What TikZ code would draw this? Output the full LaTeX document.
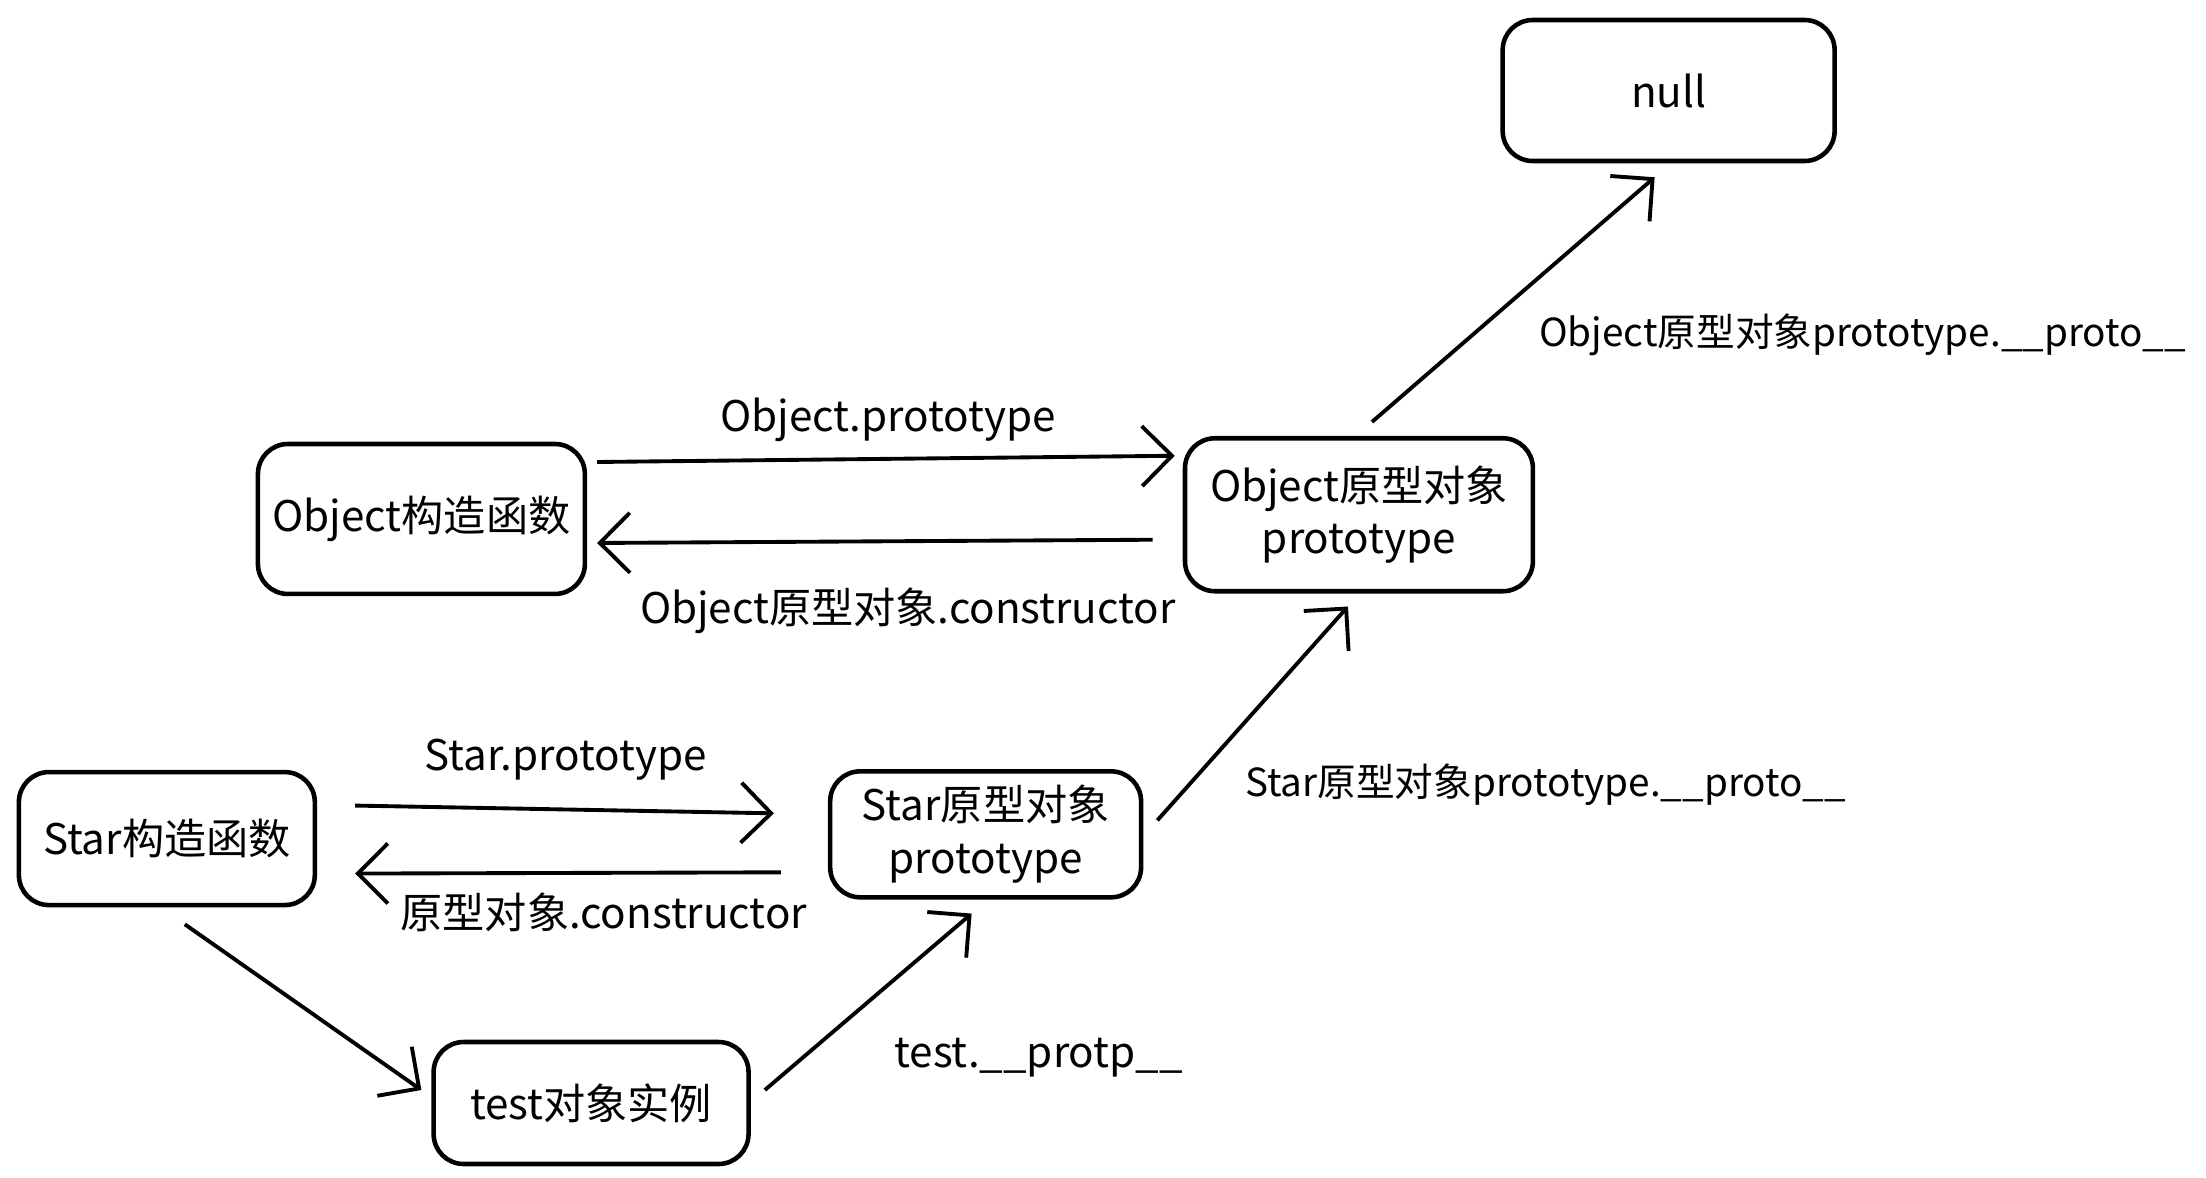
\documentclass[tikz,border=0pt]{standalone}
\usepackage{fontspec}
\setmainfont{Noto Sans CJK SC}
\usetikzlibrary{arrows.meta,positioning}
\tikzset{
    box/.style={draw, rectangle, rounded corners=0.3cm, line width=1.3pt, align=center, font=\fontsize{12}{15}\selectfont},
    arrow/.style={-{Straight Barb[length=3mm,width=6mm]}, line width=1.1pt},
    lbl/.style={font=\fontsize{12}{14}\selectfont}
}
\begin{document}
\begin{tikzpicture}[x=0.01414cm, y=-0.01414cm]
        \useasboundingbox (0,0) rectangle (1560,833);
        % Boxes
        \node[box, minimum width=3.32cm, minimum height=1.41cm] (null) at (1180,64) {null};
        \node[box, minimum width=3.48cm, minimum height=1.53cm] (objproto) at (961,364) {Object原型对象\\prototype};
        \node[box, minimum width=3.27cm, minimum height=1.5cm] (objctor) at (298,367) {Object构造函数};
        \node[box, minimum width=2.96cm, minimum height=1.33cm] (starctor) at (118,593) {Star构造函数};
        \node[box, minimum width=3.11cm, minimum height=1.26cm] (starproto) at (697,590) {Star原型对象\\prototype};
        \node[box, minimum width=3.15cm, minimum height=1.22cm] (test) at (418,780) {test对象实例};

        % Object links
        \draw[arrow] ([xshift=0.1cm,yshift=0.57cm]objctor.east) -- ([xshift=-0.08cm,yshift=0.59cm]objproto.west);
        \draw[arrow] ([xshift=-0.3cm,yshift=-0.25cm]objproto.west) -- ([xshift=0.1cm,yshift=-0.24cm]objctor.east);
        \draw[arrow] ([xshift=0.13cm,yshift=0.14cm]objproto.north) -- ([xshift=-0.14cm,yshift=-0.14cm]null.south);
        \node[lbl] (l1) at (628,297) {Object.prototype};
        \node[lbl] (l2) at (642,432) {Object原型对象.constructor};
        \node[lbl, anchor=west, inner sep=0pt, font=\fontsize{11}{13}\selectfont] (l3) at (1088,237) {Object原型对象prototype.\_\_proto\_\_};

        % Star links
        \draw[arrow] ([xshift=0.38cm,yshift=0.33cm]starctor.east) -- ([xshift=-0.54cm,yshift=0.21cm]starproto.west);
        \draw[arrow] ([xshift=-0.47cm,yshift=-0.38cm]starproto.west) -- ([xshift=0.38cm,yshift=-0.35cm]starctor.east);
        \draw[arrow] ([xshift=0.14cm,yshift=0.14cm]starproto.east) -- ([xshift=-0.11cm,yshift=-0.13cm]objproto.south);
        \node[lbl] (l4) at (400,537) {Star.prototype};
        \node[lbl] (l5) at (427,645) {原型对象.constructor};
        \node[lbl, anchor=west, inner sep=0pt, font=\fontsize{11}{13}\selectfont] (l6) at (880,555) {Star原型对象prototype.\_\_proto\_\_};

        % Instance
        \draw[arrow] ([xshift=0.18cm,yshift=-0.17cm]starctor.south) -- ([xshift=-0.1cm,yshift=0.13cm]test.west);
        \draw[arrow] ([xshift=0.14cm,yshift=0.13cm]test.east) -- ([xshift=-0.14cm,yshift=-0.14cm]starproto.south);
        \node[lbl, anchor=west, inner sep=0pt] (l7) at (632,748) {test.\_\_protp\_\_};
\end{tikzpicture}
\end{document}
